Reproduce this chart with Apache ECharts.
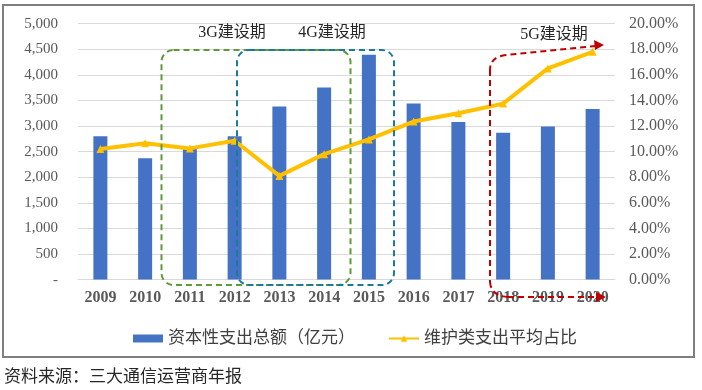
<!DOCTYPE html>
<html>
<head>
<meta charset="utf-8">
<script src="https://cdn.jsdelivr.net/npm/echarts@6/dist/echarts.min.js"></script>
<style>
html,body{margin:0;padding:0;background:#fff;}
#c{width:702px;height:390px;}
</style>
</head>
<body>
<div id="c"></div>
<script>
const years = ['2009','2010','2011','2012','2013','2014','2015','2016','2017','2018','2019','2020'];
const capex = [2800, 2370, 2550, 2800, 3380, 3750, 4390, 3440, 3080, 2870, 2990, 3330];
const maintShare = [10.2, 10.65, 10.25, 10.85, 8.1, 9.8, 10.95, 12.35, 13.0, 13.75, 16.5, 17.8];
const barName = '资本性支出总额（亿元）';
const lineName = '维护类支出平均占比';
const sourceText = '资料来源：三大通信运营商年报';

const serif = "'Liberation Serif','Times New Roman','Noto Sans CJK SC',serif";
const chart = echarts.init(document.getElementById('c'), null, {renderer:'canvas'});
const green = '#5f9a3a', teal = '#1a7a9a', red = '#c00000';
const dash = {fill:'none', stroke:red, lineWidth:2, lineDash:[6,4]};

chart.setOption({
  animation:false,
  backgroundColor:'#fff',
  grid:{left:78, right:87, top:23.6, bottom:110.4},
  legend:{
    left:128, top:325, itemWidth:30, itemHeight:8, itemGap:33,
    textStyle:{fontFamily:serif, fontSize:17, color:'#404040'},
    data:[{name:barName, icon:'rect'}, {name:lineName}]
  },
  xAxis:{
    type:'category', data:years,
    axisTick:{show:false},
    axisLine:{lineStyle:{color:'#d9d9d9', width:1}},
    axisLabel:{fontFamily:serif, fontSize:16, fontWeight:'bold', color:'#595959', margin:10}
  },
  yAxis:[{
    type:'value', min:0, max:5000, interval:500,
    axisLine:{show:false}, axisTick:{show:false},
    splitLine:{lineStyle:{color:'#d9d9d9', width:1}},
    axisLabel:{fontFamily:serif, fontSize:15, color:'#595959', margin:20,
      formatter:v => v===0 ? '-' : v.toLocaleString('en-US')}
  },{
    type:'value', min:0, max:20, interval:2,
    axisLine:{show:false}, axisTick:{show:false}, splitLine:{show:false},
    axisLabel:{fontFamily:serif, fontSize:16, color:'#595959', margin:14,
      formatter:v => v.toFixed(2)+'%'}
  }],
  series:[{
    name:barName, type:'bar', data:capex, barWidth:14,
    itemStyle:{color:'#4472c4'}
  },{
    name:lineName, type:'line', yAxisIndex:1, data:maintShare,
    symbol:'triangle', symbolSize:8,
    lineStyle:{color:'#ffc000', width:4},
    itemStyle:{color:'#ffc000'}
  }],
  graphic:[
    {type:'rect', shape:{x:3,y:5,width:691,height:352}, style:{fill:'none', stroke:'#7f7f7f', lineWidth:2}, z:100},
    {type:'rect', shape:{x:161.5,y:50,width:189,height:235,r:12}, style:{fill:'none', stroke:green, lineWidth:2, lineDash:[6,4]}, z:100},
    {type:'rect', shape:{x:237,y:50,width:157,height:235,r:12}, style:{fill:'none', stroke:teal, lineWidth:2, lineDash:[6,4]}, z:100},
    {type:'text', x:232, y:33, style:{text:'3G建设期', fontFamily:serif, fontSize:16, fill:'#262626', textAlign:'center', textVerticalAlign:'middle'}, z:100},
    {type:'text', x:332, y:33, style:{text:'4G建设期', fontFamily:serif, fontSize:16, fill:'#262626', textAlign:'center', textVerticalAlign:'middle'}, z:100},
    {type:'text', x:554, y:35, style:{text:'5G建设期', fontFamily:serif, fontSize:16, fill:'#262626', textAlign:'center', textVerticalAlign:'middle'}, z:100},
    {type:'line', shape:{x1:596,y1:46,x2:506,y2:55}, style:dash, z:100},
    {type:'bezierCurve', shape:{x1:506,y1:55,cpx1:490,cpy1:57,x2:490,y2:70}, style:dash, z:100},
    {type:'line', shape:{x1:490,y1:70,x2:490,y2:282}, style:dash, z:100},
    {type:'bezierCurve', shape:{x1:490,y1:282,cpx1:491,cpy1:296,x2:508,y2:297}, style:dash, z:100},
    {type:'line', shape:{x1:508,y1:297,x2:597,y2:297}, style:dash, z:100},
    {type:'polygon', shape:{points:[[604,45],[594,40],[595,50]]}, style:{fill:red}, z:100},
    {type:'polygon', shape:{points:[[606,297],[596,292],[596,302]]}, style:{fill:red}, z:100},
    {type:'text', x:4, y:378, style:{text:sourceText, fontFamily:serif, fontSize:17, fill:'#262626', textVerticalAlign:'middle'}, z:100}
  ]
});
</script>
</body>
</html>
